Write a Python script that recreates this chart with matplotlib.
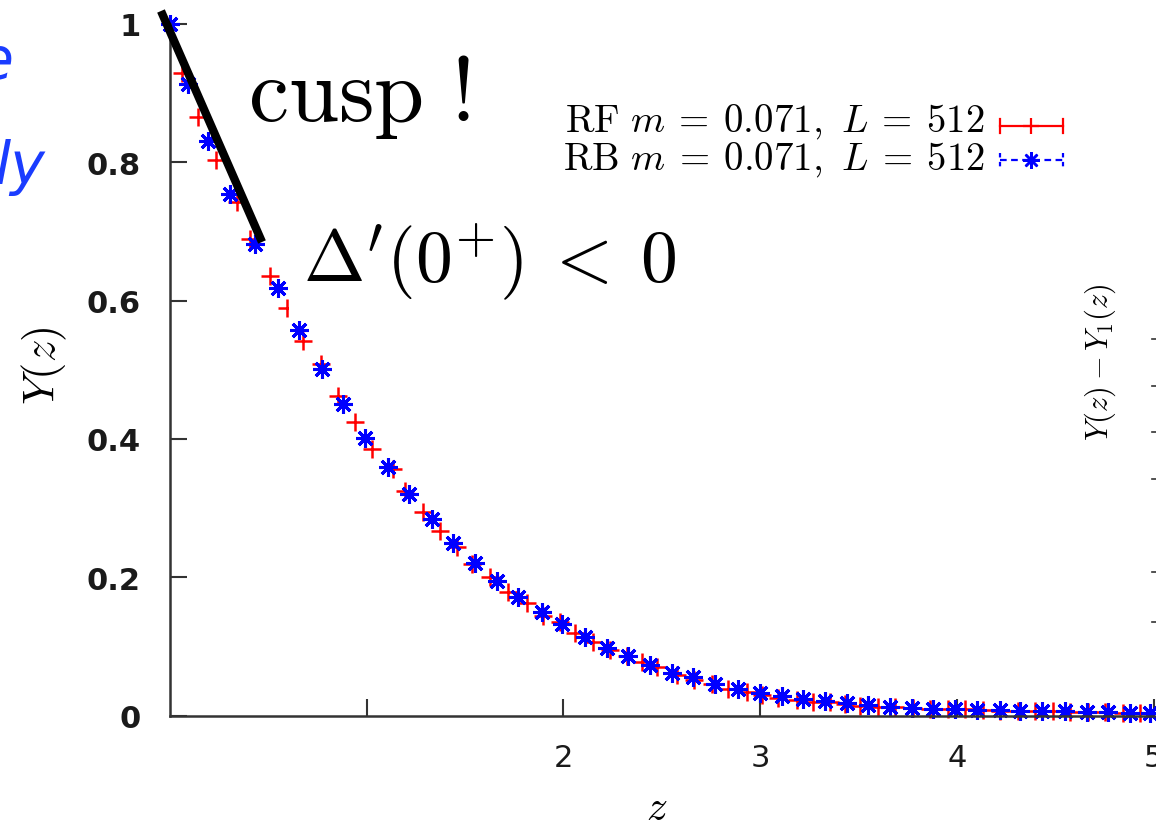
import matplotlib
matplotlib.use('Agg')
import matplotlib.pyplot as plt
from matplotlib.lines import Line2D

plt.rcParams['mathtext.fontset'] = 'cm'

W, H = 1156, 829

# RB data (blue asterisks)
z_rb = [0.0, 0.093, 0.195, 0.305, 0.432, 0.551, 0.657, 0.771, 0.881, 0.991,
        1.106, 1.215, 1.330, 1.440, 1.551, 1.661, 1.771, 1.890, 1.995, 2.110,
        2.220, 2.330, 2.440, 2.551, 2.660, 2.771, 2.889, 3.000, 3.110, 3.220,
        3.330, 3.440, 3.550, 3.660, 3.771, 3.880, 3.991, 4.101, 4.220, 4.321,
        4.432, 4.550, 4.660, 4.770, 4.880, 4.982]
y_rb = [1.0, 0.913, 0.831, 0.754, 0.682, 0.618, 0.557, 0.501, 0.450, 0.402,
        0.360, 0.321, 0.284, 0.250, 0.221, 0.195, 0.171, 0.149, 0.133, 0.113,
        0.098, 0.086, 0.073, 0.062, 0.055, 0.045, 0.038, 0.033, 0.028, 0.024,
        0.021, 0.018, 0.015, 0.013, 0.011, 0.010, 0.009, 0.008, 0.008, 0.007,
        0.006, 0.006, 0.005, 0.005, 0.004, 0.004]

# RF data (red crosses)
z_rf = [0.0, 0.059, 0.144, 0.234, 0.342, 0.407, 0.508, 0.597, 0.678, 0.768,
        0.856, 0.941, 1.025, 1.134, 1.195, 1.288, 1.373, 1.461, 1.534, 1.627,
        1.720, 1.813, 1.898, 1.983, 2.059, 2.152, 2.237, 2.323, 2.398, 2.474,
        2.576, 2.664, 2.754, 2.838, 2.932, 3.010, 3.092, 3.186, 3.271, 3.355,
        3.432, 3.508, 3.597, 3.686, 3.775, 3.864, 3.953, 4.042, 4.131, 4.220,
        4.309, 4.398, 4.487, 4.576, 4.665, 4.754, 4.843, 4.932]
y_rf = [1.0, 0.929, 0.866, 0.803, 0.742, 0.689, 0.636, 0.589, 0.542, 0.509,
        0.462, 0.424, 0.385, 0.356, 0.325, 0.294, 0.267, 0.243, 0.219, 0.200,
        0.179, 0.163, 0.144, 0.135, 0.120, 0.107, 0.094, 0.086, 0.077, 0.070,
        0.058, 0.051, 0.046, 0.039, 0.034, 0.030, 0.026, 0.023, 0.020, 0.019,
        0.017, 0.014, 0.013, 0.012, 0.011, 0.010, 0.009, 0.009, 0.008, 0.007,
        0.007, 0.006, 0.006, 0.005, 0.005, 0.005, 0.004, 0.004]

yticks = [0, 0.2, 0.4, 0.6, 0.8, 1]
ytick_labels = ['0', '0.2', '0.4', '0.6', '0.8', '1']
xticks = [1, 2, 3, 4, 5]
xtick_labels = ['', '2', '3', '4', '5']

label_rf = r'$\mathrm{RF}\ m\:=\:0.071,\ L\:=\:512$'
label_rb = r'$\mathrm{RB}\ m\:=\:0.071,\ L\:=\:512$'


def px(x, y):
    return x / W, 1 - y / H


fig = plt.figure(figsize=(W / 100, H / 100), dpi=100, facecolor='white')
ax = fig.add_axes([170 / W, 1 - 716.5 / H, (1153.5 - 170) / W, (716.5 - 25) / H])
ax.set_facecolor('none')

ax.plot(z_rf, y_rf, ls='none', marker='+', ms=12.5, mew=1.8, color='#ff0000', clip_on=False)
ax.plot(z_rb, y_rb, ls='none', marker=(8, 2, 0), ms=13.5, mew=2.2, color='#0000ff', clip_on=False)

ax.set_xlim(0, 5)
ax.set_ylim(0, 1)
for s in ['top', 'right']:
    ax.spines[s].set_visible(False)
for s in ['left', 'bottom']:
    ax.spines[s].set_color('#333333')
    ax.spines[s].set_linewidth(1.8)

ax.set_yticks(yticks)
ax.set_yticklabels(ytick_labels)
ax.set_xticks(xticks)
ax.set_xticklabels(xtick_labels)
ax.tick_params(axis='y', direction='in', length=12, width=1.5, color='#333333',
               pad=21, labelsize=22, labelcolor='#1a1a1a')
ax.tick_params(axis='x', direction='in', length=12, width=1.5, color='#333333',
               pad=20, labelsize=22, labelcolor='#1a1a1a')
for t in ax.get_yticklabels():
    t.set_fontweight('bold')

# axis labels
fig.text(*px(44, 366), r'$Y(z)$', rotation=90, fontsize=32, ha='center', va='center')
fig.text(*px(657, 820), r'$z$', fontsize=30, ha='center', va='baseline')

# legend, gnuplot style
fig.text(*px(985, 122), label_rf, fontsize=28, ha='right', va='center')
fig.text(*px(985, 160), label_rb, fontsize=28, ha='right', va='center')
tf = fig.transFigure
fig.add_artist(Line2D([1000 / W, 1063 / W], [1 - 127 / H] * 2, transform=tf, color='#ff0000', lw=1.6))
for xc in [1000, 1063]:
    fig.add_artist(Line2D([xc / W] * 2, [1 - 120 / H, 1 - 134 / H], transform=tf, color='#ff0000', lw=1.6))
fig.add_artist(Line2D([1031 / W], [1 - 127 / H], transform=tf, ls='none', marker='+', ms=12,
                      mew=1.6, color='#ff0000'))
fig.add_artist(Line2D([1000 / W, 1063 / W], [1 - 161 / H] * 2, transform=tf, color='#0000ff', lw=1.6,
                      ls=(0, (3, 2))))
for xc in [1000, 1063]:
    fig.add_artist(Line2D([xc / W] * 2, [1 - 154 / H, 1 - 168 / H], transform=tf, color='#0000ff', lw=1.6,
                          ls=(0, (2, 2))))
fig.add_artist(Line2D([1031 / W], [1 - 161 / H], transform=tf, ls='none', marker=(8, 2, 0), ms=12,
                      mew=1.8, color='#0000ff'))

# annotations pasted on the slide
fig.add_artist(Line2D([161 / W, 262 / W], [1 - 12 / H, 1 - 243 / H], transform=tf, color='black',
                      lw=6, solid_capstyle='butt'))
fig.text(*px(248, 97), r'$\mathrm{cusp\ !}$', fontsize=65, ha='left', va='center')
fig.text(*px(490, 262), r"$\Delta'(0^{+})\:<\:0$", fontsize=53, ha='center', va='center',
         bbox=dict(boxstyle='square,pad=0.2', facecolor='white', edgecolor='none'))

# cut-off pieces at the edges
fig.text(*px(-5, 62), 'e', fontsize=42, style='italic', color='#1a3cff', ha='center', va='center')
fig.text(*px(46, 167), 'ly', fontsize=42, style='italic', color='#1a3cff', ha='right', va='center')
fig.text(*px(1100, 362), r'$Y(z) - Y_1(z)$', rotation=90, fontsize=22, ha='center', va='center')
for yd in [340, 387, 433, 480, 573, 623]:
    fig.add_artist(Line2D([1152 / W, 1156 / W], [1 - yd / H] * 2, transform=tf, color='#333333', lw=1.2))

fig.savefig('out.png', dpi=100, facecolor=fig.get_facecolor())
